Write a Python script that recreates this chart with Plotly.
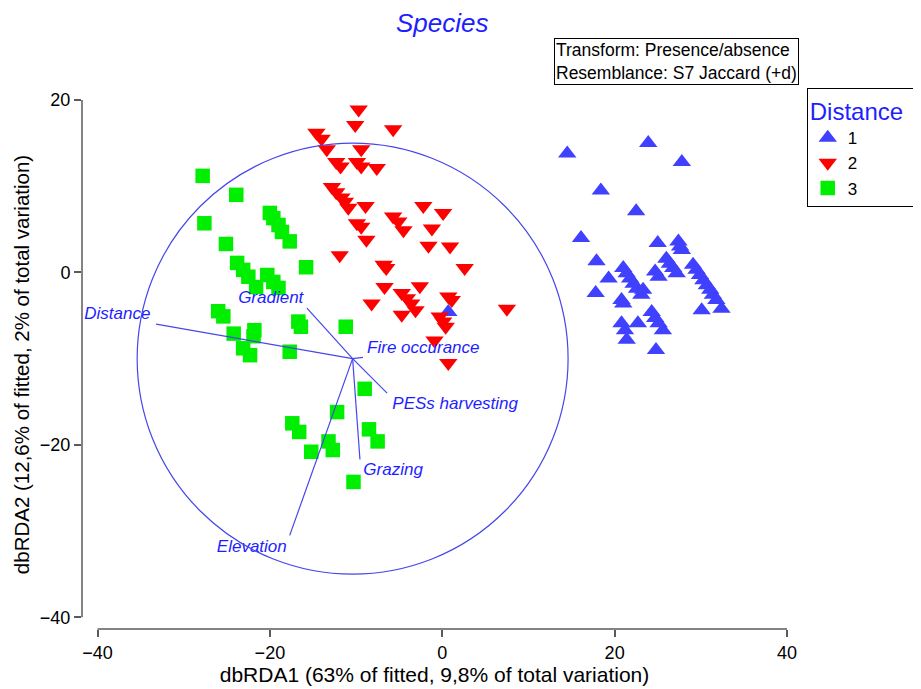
import plotly.graph_objects as go

# ---- data ----
d1_x = [14.5, 23.9, 27.8, 18.4, 22.5, 16.1, 17.9, 19.3, 17.8, 21.0, 21.4, 21.8, 22.2, 22.6, 23.3,
        23.1, 20.8, 21.0, 25.0, 24.7, 25.1, 27.4, 27.6, 27.8, 26.0, 26.4, 26.8, 27.2, 29.1, 29.5,
        29.9, 30.3, 30.7, 31.1, 31.4, 31.8, 32.4, 30.1, 22.7, 24.3, 24.7, 25.1, 25.6, 20.8, 21.2,
        21.4, 24.8, 0.7]
d1_y = [13.8, 15.0, 12.8, 9.5, 7.1, 4.0, 1.3, -0.7, -2.4, 0.5, -0.1, -0.7, -1.3, -1.9, -2.0,
        -2.6, -3.2, -3.6, 3.4, 0.1, -0.5, 3.6, 3.0, 2.6, 1.6, 1.0, 0.5, -0.1, 0.9, 0.3,
        -0.3, -0.9, -1.5, -2.0, -2.6, -3.2, -4.2, -4.4, -5.9, -4.6, -5.3, -5.9, -6.7, -5.9, -6.7,
        -7.8, -9.0, -4.6]

d2_x = [-9.7, -10.1, -5.7, -14.6, -14.0, -13.4, -12.3, -11.8, -9.4, -9.9, -9.4, -7.6, -12.8, -12.3,
        -11.7, -11.3, -10.9, -8.9, -9.9, -9.4, -8.8, -11.9, -5.7, -5.1, -4.5, -2.2, 0.1, -1.2, -1.6,
        0.9, 2.6, -6.8, -6.5, -6.7, -2.6, -8.2, -4.7, -4.1, -3.6, -3.1, -4.7, 0.7, 1.1, -0.3, 0.1,
        0.4, 7.5, -0.9, 0.7]
d2_y = [18.9, 17.1, 16.6, 16.2, 15.5, 14.3, 12.8, 12.3, 14.3, 12.8, 12.3, 12.1, 9.9, 9.3,
        8.7, 8.2, 7.5, 7.7, 5.7, 5.3, 3.8, 2.0, 6.5, 5.9, 4.9, 7.7, 6.9, 5.1, 3.1,
        3.0, 0.5, 0.9, 0.5, -1.7, -1.6, -3.6, -2.4, -3.0, -3.6, -4.4, -4.9, -2.8, -3.2, -5.1, -5.7,
        -6.3, -4.2, -7.9, -10.5]

d3_x = [-27.8, -23.9, -27.6, -25.1, -20.0, -19.6, -19.0, -18.6, -17.7, -15.8, -23.8, -23.1, -22.5,
        -21.6, -20.3, -19.6, -19.0, -26.0, -25.4, -24.2, -21.8, -21.9, -23.1, -22.3, -17.7, -16.7,
        -16.4, -11.2, -9.0, -12.2, -17.4, -16.6, -8.5, -7.5, -15.2, -13.2, -12.7, -10.3]
d3_y = [11.2, 9.0, 5.7, 3.3, 6.9, 6.3, 5.5, 4.7, 3.6, 0.6, 1.1, 0.3, -0.5,
        -1.7, -0.3, -1.1, -1.8, -4.5, -5.1, -7.1, -6.7, -7.4, -8.8, -9.6, -9.2, -5.7,
        -6.3, -6.3, -13.5, -16.2, -17.5, -18.5, -18.2, -19.6, -20.8, -19.6, -20.6, -24.3]

group_names = ["1", "2", "3"]

vec_names = ["Distance", "Gradient", "Fire occurance", "PESs harvesting", "Grazing", "Elevation"]
vec_origin = (-10.4, -10.0)
vec_x_end = [-33.2, -15.7, -9.2, -6.4, -9.55, -17.7]
vec_y_end = [-6.0, -4.15, -9.85, -14.0, -21.7, -30.5]
label_x = [-37.7, -19.9, -2.2, 1.5, -5.7, -22.1]
label_y = [-4.95, -3.0, -8.8, -15.35, -23.05, -31.95]

circle_center = (-10.4, -10.0)
circle_radius = 25.0

x_ticks = [-40, -20, 0, 20, 40]
y_ticks = [-40, -20, 0, 20]

FONT = "Liberation Sans, Arial, sans-serif"
BLUE_TXT = "rgb(30,30,255)"
LINE_BLUE = "rgb(70,70,235)"

fig = go.Figure()
fig.add_trace(go.Scatter(x=d1_x, y=d1_y, mode="markers", name=group_names[0],
                         marker=dict(symbol="triangle-up", size=16, color="rgb(64,64,255)",
                                     line=dict(width=0))))
fig.add_trace(go.Scatter(x=d2_x, y=d2_y, mode="markers", name=group_names[1],
                         marker=dict(symbol="triangle-down", size=16, color="rgb(255,0,0)",
                                     line=dict(width=0))))
fig.add_trace(go.Scatter(x=d3_x, y=d3_y, mode="markers", name=group_names[2],
                         marker=dict(symbol="square", size=14.5, color="rgb(0,238,0)",
                                     line=dict(width=0))))

# vectors
vx, vy = [], []
for xe, ye in zip(vec_x_end, vec_y_end):
    vx += [vec_origin[0], xe, None]
    vy += [vec_origin[1], ye, None]
fig.add_trace(go.Scatter(x=vx, y=vy, mode="lines", showlegend=False, hoverinfo="skip",
                         line=dict(color=LINE_BLUE, width=1.2)))
fig.add_trace(go.Scatter(x=label_x, y=label_y, mode="text", showlegend=False,
                         text=["<i>%s</i>" % n for n in vec_names],
                         textfont=dict(family=FONT, size=17, color=BLUE_TXT)))

fig.add_shape(type="circle", xref="x", yref="y",
              x0=circle_center[0] - circle_radius, x1=circle_center[0] + circle_radius,
              y0=circle_center[1] - circle_radius, y1=circle_center[1] + circle_radius,
              line=dict(color=LINE_BLUE, width=1.2))

AX_COL = "#5a5a5a"
# axis lines (offset style)
fig.add_shape(type="line", xref="paper", yref="y", x0=0, x1=0, y0=-40, y1=20,
              line=dict(color=AX_COL, width=1.5))
fig.add_shape(type="line", xref="x", yref="paper", x0=-40, x1=40, y0=0, y1=0,
              line=dict(color=AX_COL, width=1.5))

fig.update_xaxes(range=[-41.8, 40], tickvals=x_ticks, ticks="outside", ticklen=7,
                 tickcolor=AX_COL, tickwidth=1.5, showline=False, showgrid=False, zeroline=False,
                 tickfont=dict(family=FONT, size=18, color="black"),
                 title=dict(text="dbRDA1 (63% of fitted, 9,8% of total variation)",
                            font=dict(family=FONT, size=21, color="black"), standoff=3))
fig.update_yaxes(range=[-41.36, 20], tickvals=y_ticks, ticks="outside", ticklen=7,
                 tickcolor=AX_COL, tickwidth=1.5, showline=False, showgrid=False, zeroline=False,
                 tickfont=dict(family=FONT, size=18, color="black"),
                 title=dict(text="dbRDA2 (12,6% of fitted, 2% of total variation)",
                            font=dict(family=FONT, size=20.5, color="black"), standoff=4))

fig.add_annotation(xref="paper", yref="paper", x=0.6695, y=1.117, xanchor="left", yanchor="top",
                   text="Transform: Presence/absence<br>Resemblance: S7 Jaccard (+d)",
                   showarrow=False, align="left", bordercolor="black", borderwidth=1, borderpad=1,
                   bgcolor="white", font=dict(family=FONT, size=17.5, color="black"))

fig.update_layout(
    width=921, height=689,
    margin=dict(l=74, r=142, t=92, b=68, autoexpand=False),
    paper_bgcolor="white", plot_bgcolor="white",
    title=dict(text="<i>Species</i>", x=0.4715, xanchor="center", y=0.992, yanchor="top",
               pad=dict(t=0, b=0, l=0, r=0),
               font=dict(family=FONT, size=26, color=BLUE_TXT)),
    legend=dict(x=1.028, y=1.0227, xanchor="left", yanchor="top",
                bordercolor="black", borderwidth=1, bgcolor="white",
                title=dict(text="Distance\u00a0\u00a0", font=dict(family=FONT, size=24, color=BLUE_TXT)),
                font=dict(family=FONT, size=17, color="black"),
                tracegroupgap=0, itemwidth=30),
    showlegend=True,
)

fig.write_html("out.html")
